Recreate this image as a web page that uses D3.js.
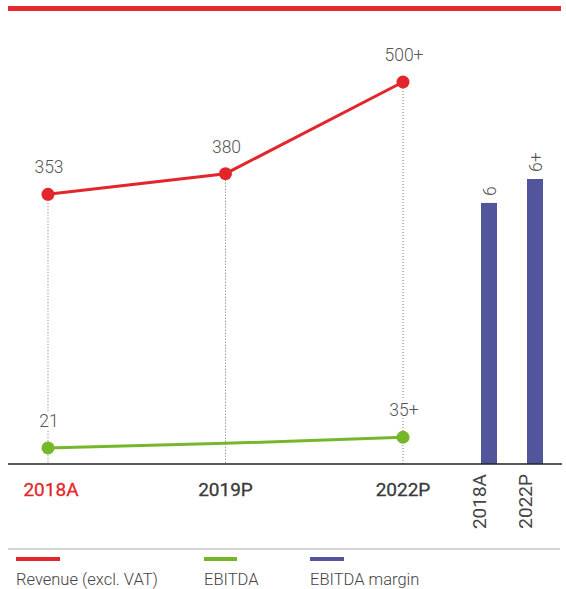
<!DOCTYPE html>
<html>
<head>
<meta charset="utf-8">
<script src="https://cdn.jsdelivr.net/npm/d3@7"></script>
<style>
  body { margin: 0; background: #fff; }
  svg { display: block; font-family: Roboto, 'Open Sans', sans-serif; }
</style>
</head>
<body>
<div id="chart"></div>
<script>
// data
const years = ['2018A', '2019P', '2022P']
const revenue = [353, 380, 500]
const revenueLabels = ['353', '380', '500+']
const ebitda = [21, 27, 35]
const ebitdaLabels = ['21', '', '35+']

const marginYears = ['2018A', '2022P']
const margin = [6, 6.55]
const marginLabels = ['6', '6+']

const legendItems = ['Revenue (excl. VAT)', 'EBITDA', 'EBITDA margin']

const red = '#e3262b'
const green = '#76b72a'
const blue = '#52559c'
const textGrey = '#555'

const width = 566
const height = 589
const baseY = 464

const svg = d3
  .select('#chart')
  .append('svg')
  .attr('width', width)
  .attr('height', height)

// red rule on top
svg.append('rect')
  .attr('x', 8)
  .attr('y', 6)
  .attr('width', 553)
  .attr('height', 5)
  .attr('fill', '#e52a2e')

const x = d3.scalePoint().domain(years).range([48, 403])
const y = d3.scaleLinear().domain([0, 500]).range([baseY, 82])

const xBar = d3.scalePoint().domain(marginYears).range([489, 535])
const yBar = d3.scaleLinear().domain([0, 6.55]).range([baseY, 179])

// dotted drop lines
svg.selectAll('.drop')
  .data(years)
  .enter()
  .append('line')
  .attr('class', 'drop')
  .attr('x1', d => x(d))
  .attr('x2', d => x(d))
  .attr('y1', (d, i) => y(revenue[i]))
  .attr('y2', baseY)
  .attr('stroke', '#777')
  .attr('stroke-width', 1)
  .attr('stroke-dasharray', '1,2')

const line = d3.line()
  .x((d, i) => x(years[i]))
  .y(d => y(d))

svg.append('path')
  .datum(revenue)
  .attr('d', line)
  .attr('fill', 'none')
  .attr('stroke', red)
  .attr('stroke-width', 3)

svg.append('path')
  .datum(ebitda)
  .attr('d', line)
  .attr('fill', 'none')
  .attr('stroke', green)
  .attr('stroke-width', 3)

svg.selectAll('.rev-dot')
  .data(revenue)
  .enter()
  .append('circle')
  .attr('class', 'rev-dot')
  .attr('cx', (d, i) => x(years[i]))
  .attr('cy', d => y(d))
  .attr('r', 6.5)
  .attr('fill', red)

svg.selectAll('.ebitda-dot')
  .data(ebitda)
  .enter()
  .filter((d, i) => ebitdaLabels[i] !== '')
  .append('circle')
  .attr('class', 'ebitda-dot')
  .attr('cx', d => x(years[ebitda.indexOf(d)]))
  .attr('cy', d => y(d))
  .attr('r', 6.5)
  .attr('fill', green)

// value labels (white halo hides the dotted lines behind them)
function valueLabels (values, labels, cls) {
  svg.selectAll('.' + cls)
    .data(values)
    .enter()
    .append('text')
    .attr('class', cls)
    .attr('x', (d, i) => x(years[i]) + 1)
    .attr('y', d => y(d) - 21)
    .attr('text-anchor', 'middle')
    .attr('font-size', 17.5)
    .attr('font-weight', 300)
    .attr('fill', textGrey)
    .attr('stroke', '#fff')
    .attr('stroke-width', 5)
    .attr('paint-order', 'stroke')
    .text((d, i) => labels[i])
}
valueLabels(revenue, revenueLabels, 'rev-label')
valueLabels(ebitda, ebitdaLabels, 'ebitda-label')

// margin bars
svg.selectAll('.bar')
  .data(margin)
  .enter()
  .append('rect')
  .attr('class', 'bar')
  .attr('x', (d, i) => xBar(marginYears[i]) - 8)
  .attr('y', d => yBar(d))
  .attr('width', 16)
  .attr('height', d => baseY - yBar(d))
  .attr('fill', blue)

svg.selectAll('.bar-label')
  .data(margin)
  .enter()
  .append('text')
  .attr('class', 'bar-label')
  .attr('transform', (d, i) => 'translate(' + (xBar(marginYears[i]) + 7) + ',' + (yBar(d) - 7) + ') rotate(-90)')
  .attr('font-size', 17.5)
  .attr('font-weight', 300)
  .attr('fill', textGrey)
  .text((d, i) => marginLabels[i])

// baseline
svg.append('line')
  .attr('x1', 8)
  .attr('x2', 562)
  .attr('y1', baseY)
  .attr('y2', baseY)
  .attr('stroke', '#222')
  .attr('stroke-width', 1.5)

// category labels
svg.selectAll('.year')
  .data(years)
  .enter()
  .append('text')
  .attr('class', 'year')
  .attr('x', (d, i) => x(d) + (i === 0 ? 3 : 0))
  .attr('y', 496)
  .attr('text-anchor', 'middle')
  .attr('font-size', 19)
  .attr('font-weight', 400)
  .attr('stroke-width', 0.3)
  .attr('fill', (d, i) => i === 0 ? red : '#3a3a3a')
  .attr('stroke', (d, i) => i === 0 ? red : '#3a3a3a')
  .text(d => d)

svg.selectAll('.bar-year')
  .data(marginYears)
  .enter()
  .append('text')
  .attr('class', 'bar-year')
  .attr('transform', d => 'translate(' + (xBar(d) - 3) + ',474) rotate(-90)')
  .attr('text-anchor', 'end')
  .attr('font-size', 19)
  .attr('font-weight', 400)
  .attr('fill', '#444')
  .text(d => d)

// legend
svg.append('line')
  .attr('x1', 8)
  .attr('x2', 560)
  .attr('y1', 549)
  .attr('y2', 549)
  .attr('stroke', '#aaa')
  .attr('stroke-width', 1)

const legendX = [16, 204, 310]
const legendW = [44, 33, 34]
const legendC = [red, green, blue]

const legend = svg.selectAll('.legend')
  .data(legendItems)
  .enter()
  .append('g')
  .attr('class', 'legend')
  .attr('transform', (d, i) => 'translate(' + legendX[i] + ',0)')

legend.append('rect')
  .attr('y', 557)
  .attr('width', (d, i) => legendW[i])
  .attr('height', 4)
  .attr('fill', (d, i) => legendC[i])

legend.append('text')
  .attr('y', 585)
  .attr('font-size', 16.5)
  .attr('font-weight', 300)
  .attr('fill', '#444')
  .text(d => d)
</script>
</body>
</html>
